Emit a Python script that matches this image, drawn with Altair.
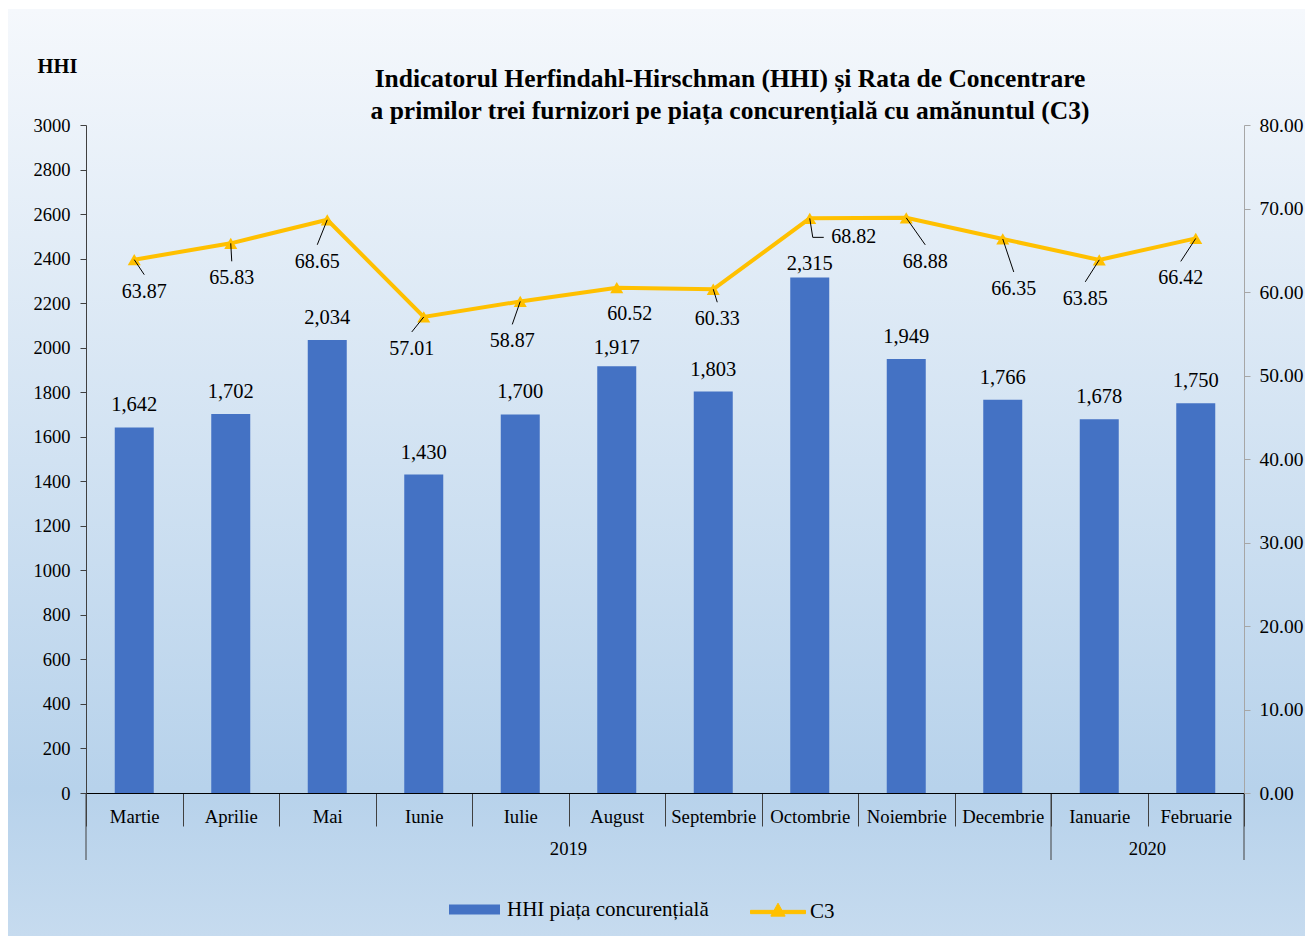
import altair as alt
import pandas as pd

# ---------------- data ----------------
months = ["Martie", "Aprilie", "Mai", "Iunie", "Iulie", "August", "Septembrie",
          "Octombrie", "Noiembrie", "Decembrie", "Ianuarie", "Februarie"]
hhi = [1642, 1702, 2034, 1430, 1700, 1917, 1803, 2315, 1949, 1766, 1678, 1750]
c3 = [63.87, 65.83, 68.65, 57.01, 58.87, 60.52, 60.33, 68.82, 68.88, 66.35, 63.85, 66.42]
years = ["2019", "2020"]
months_per_year = [10, 2]
hhi_ticks = list(range(0, 3001, 200))
c3_ticks = list(range(0, 81, 10))
bar_series = "HHI piața concurențială"
line_series = "C3"

# ---------------- layout / annotation placement (pixels) ----------------
W, H = 1158, 668
c3_label_dx = [10, 1, -10, -12, -8, 13, 4, 44, 19, 11, -14, -15]
c3_label_dy = [32, 35, 42, 32, 40, 26, 30, 19, 44, 50, 39, 40]
hhi_label_dy = [22, 22, 22, 22, 22, 18, 22, 14, 22, 22, 22, 22]
FONT = "Liberation Serif"
BLUE = "#4472C4"
GOLD = "#FFC000"

n = len(months)
ux = n / W          # month units per pixel
uy_c3 = 80 / H      # C3 units per pixel
uy_hhi = 3000 / H   # HHI units per pixel

df = pd.DataFrame({"month": months, "idx": range(n), "hhi": hhi, "c3": c3})
df["xc"] = df["idx"] + 0.5
df["lab_x"] = df["xc"] + pd.Series(c3_label_dx) * ux
df["lab_y"] = df["c3"] - pd.Series(c3_label_dy) * uy_c3
df["hhi_lab_y"] = df["hhi"] + pd.Series(hhi_label_dy) * uy_hhi
df["s_bar"] = bar_series
df["s_line"] = line_series

# leader lines (polyline offsets from the point, in pixels)
leader_rows = []
for i, m in enumerate(months):
    if m == "August":
        continue
    if m == "Octombrie":
        pts = [(0, 0), (3, 19), (14, 19)]
    else:
        pts = [(0, 0), (c3_label_dx[i], c3_label_dy[i] - 17)]
    for k, (px, py) in enumerate(pts):
        leader_rows.append({"month": m, "order": k,
                            "x": i + 0.5 + px * ux, "y": c3[i] - py * uy_c3})
leaders_df = pd.DataFrame(leader_rows)

bounds = [0]
for c in months_per_year:
    bounds.append(bounds[-1] + c)
bound_df = pd.DataFrame({"b": bounds})
year_df = pd.DataFrame({"year": years,
                        "mid": [(bounds[i] + bounds[i + 1]) / 2 for i in range(len(years))]})

xq = alt.Scale(domain=[0, n], nice=False, zero=False)
yc3 = alt.Scale(domain=[0, 80], nice=False)
yhhi = alt.Scale(domain=[0, 3000], nice=False)
xband = alt.Scale(paddingInner=0, paddingOuter=0)

# ---------------- background ----------------
bg = alt.Chart(pd.DataFrame({"a": [0]})).mark_rect(
    fill=alt.Gradient(gradient="linear", x1=0, x2=0, y1=0, y2=1,
                      stops=[alt.GradientStop(offset=0, color="#F5F8FC"),
                             alt.GradientStop(offset=0.84, color="#B7D2EB"),
                             alt.GradientStop(offset=1, color="#C6DBEF")])
).encode(x=alt.value(-79), x2=alt.value(W + 61), y=alt.value(-116), y2=alt.value(H + 143))

# ---------------- bars ----------------
bars = alt.Chart(df).mark_bar(size=39).encode(
    x=alt.X("month:N", sort=months, scale=xband, title=None,
            axis=alt.Axis(tickBand="extent", tickSize=33, tickColor="#404040",
                          domainColor="#000000", labelFont=FONT, labelFontSize=18.7,
                          labelColor="black", labelPadding=-19, labelAngle=0, zindex=1)),
    y=alt.Y("hhi:Q", scale=yhhi,
            axis=alt.Axis(values=hhi_ticks, format="d", grid=False, domainColor="#404040",
                          tickColor="#404040", tickSize=6, labelFont=FONT, labelFontSize=18.5,
                          labelColor="black", labelPadding=10, title="HHI", titleAngle=0,
                          titleX=-29, titleY=-59, titleFont=FONT, titleFontSize=20.5,
                          titleFontWeight="bold", titleAlign="center", titleBaseline="middle",
                          titleColor="black", zindex=1)),
    fill=alt.Fill("s_bar:N", scale=alt.Scale(domain=[bar_series], range=[BLUE]),
                  legend=alt.Legend(orient="none", legendX=363, legendY=759, title=None,
                                    symbolType="M-1,-0.2H1V0.2H-1Z", symbolSize=2601,
                                    symbolStrokeWidth=0, labelFont=FONT, labelFontSize=21,
                                    labelColor="black", labelOffset=7, labelLimit=500,
                                    padding=0, zindex=1)),
)

bar_labels = alt.Chart(df).mark_text(font=FONT, fontSize=20.5, color="black",
                                     baseline="middle", align="center").encode(
    x=alt.X("month:N", sort=months, scale=xband, axis=None),
    y=alt.Y("hhi_lab_y:Q", scale=yhhi, axis=None),
    text=alt.Text("hhi:Q", format=","),
)

# ---------------- year grouping ----------------
year_rules = alt.Chart(bound_df).mark_rule(color="#404040", strokeWidth=1).encode(
    x=alt.X("b:Q", scale=xq, axis=None),
    y=alt.value(H), y2=alt.value(H + 67),
)
year_text = alt.Chart(year_df).mark_text(font=FONT, fontSize=18.7, color="black",
                                         baseline="middle").encode(
    x=alt.X("mid:Q", scale=xq, axis=None),
    y=alt.value(H + 56),
    text="year:N",
)

# ---------------- C3 line ----------------
line = alt.Chart(df).mark_line(strokeWidth=4).encode(
    x=alt.X("xc:Q", scale=xq, axis=None),
    y=alt.Y("c3:Q", scale=yc3,
            axis=alt.Axis(orient="right", values=c3_ticks, format=".2f", grid=False,
                          domainColor="#A6A6A6", tickColor="#A6A6A6", tickSize=6,
                          labelFont=FONT, labelFontSize=19.5, labelColor="black",
                          labelPadding=9, title=None, zindex=1)),
    stroke=alt.Stroke("s_line:N", scale=alt.Scale(domain=[line_series], range=[GOLD]),
                      legend=alt.Legend(orient="none", legendX=664, legendY=759, title=None,
                                        symbolType="M-1,-0.06H1V0.06H-1Z M-0.26,0.15L0,-0.32L0.26,0.15Z",
                                        symbolSize=3025, symbolFillColor=GOLD,
                                        symbolStrokeColor=GOLD, symbolStrokeWidth=1,
                                        labelFont=FONT, labelFontSize=21, labelColor="black",
                                        labelOffset=4, labelLimit=200, padding=0, zindex=1)),
)

points = alt.Chart(df).mark_point(shape="triangle-up", size=170, filled=True,
                                  color=GOLD, opacity=1).encode(
    x=alt.X("xc:Q", scale=xq, axis=None),
    y=alt.Y("c3:Q", scale=yc3, axis=None),
)

leaders = alt.Chart(leaders_df).mark_line(color="black", strokeWidth=1).encode(
    x=alt.X("x:Q", scale=xq, axis=None),
    y=alt.Y("y:Q", scale=yc3, axis=None),
    detail="month:N",
    order="order:Q",
)

c3_labels = alt.Chart(df).mark_text(font=FONT, fontSize=20, color="black",
                                    baseline="middle", align="center").encode(
    x=alt.X("lab_x:Q", scale=xq, axis=None),
    y=alt.Y("lab_y:Q", scale=yc3, axis=None),
    text=alt.Text("c3:Q", format=".2f"),
)

chart = alt.layer(
    bg, bars, bar_labels, year_rules, year_text, line, points, leaders, c3_labels
).resolve_scale(
    x="independent", y="independent", fill="independent", stroke="independent"
).properties(
    width=W, height=H,
    autosize=alt.AutoSizeParams(type="none"),
    padding={"left": 78, "top": 117, "right": 61, "bottom": 143},
    background="white",
    title=alt.TitleParams(
        text=["Indicatorul Herfindahl-Hirschman (HHI) și Rata de Concentrare",
              "a primilor trei furnizori pe piața concurențială cu amănuntul (C3)"],
        font=FONT, fontSize=25.5, fontWeight="bold", color="black", anchor="middle",
        dx=65, lineHeight=32, offset=-115, zindex=1),
).configure_view(stroke=None)

chart.save("out.html", embed_options={"renderer": "svg", "actions": False})
